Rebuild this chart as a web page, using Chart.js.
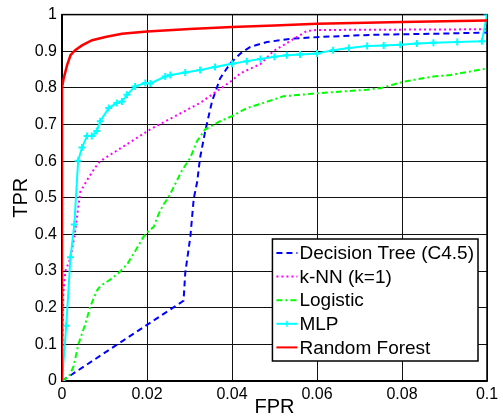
<!DOCTYPE html>
<html>
<head>
<meta charset="utf-8">
<script src="https://cdn.jsdelivr.net/npm/chart.js@4"></script>
<style>
  html, body { margin: 0; padding: 0; background: #fff; }
  #wrap { width: 503px; height: 419px; }
</style>
</head>
<body>
<div id="wrap"><canvas id="chart" width="503" height="419"></canvas></div>
<script>
const seriesNames = ['Decision Tree (C4.5)', 'k-NN (k=1)', 'Logistic', 'MLP', 'Random Forest'];

const dtFpr = [0, 0.0286, 0.029, 0.0302, 0.031, 0.0318, 0.0325, 0.0337, 0.0353, 0.0372, 0.0396, 0.042, 0.0443, 0.0482, 0.0537, 0.0608, 0.0733, 0.089, 0.1];
const dtTpr = [0, 0.219, 0.295, 0.394, 0.498, 0.543, 0.61, 0.682, 0.763, 0.826, 0.867, 0.894, 0.912, 0.925, 0.934, 0.939, 0.945, 0.948, 0.951];

const knnFpr = [0, 0.0003, 0.0008, 0.002, 0.003, 0.0043, 0.0063, 0.0078, 0.009, 0.0208, 0.0325, 0.04, 0.042, 0.0467, 0.0497, 0.0553, 0.0576, 0.06, 0.1];
const knnTpr = [0, 0.24, 0.30, 0.336, 0.40, 0.516, 0.556, 0.583, 0.60, 0.687, 0.759, 0.82, 0.84, 0.865, 0.90, 0.939, 0.955, 0.958, 0.96];

const logFpr = [0, 0.0016, 0.0027, 0.0039, 0.0055, 0.0067, 0.0082, 0.009, 0.0114, 0.0133, 0.0153, 0.0172, 0.0192, 0.02, 0.0216, 0.0227, 0.0239, 0.0251, 0.0282, 0.0302, 0.0318, 0.0337, 0.0372, 0.04, 0.0435, 0.0474, 0.0521, 0.0608, 0.0718, 0.0749, 0.0804, 0.0874, 0.0914, 0.1];
const logTpr = [0, 0.012, 0.039, 0.102, 0.156, 0.205, 0.246, 0.259, 0.277, 0.295, 0.318, 0.354, 0.394, 0.405, 0.421, 0.455, 0.482, 0.502, 0.574, 0.61, 0.655, 0.687, 0.709, 0.723, 0.745, 0.759, 0.777, 0.786, 0.795, 0.799, 0.817, 0.831, 0.835, 0.853];

const mlpFpr = [0, 0.001, 0.002, 0.0029, 0.0038, 0.0047, 0.0059, 0.007, 0.0082, 0.009, 0.011, 0.0129, 0.0141, 0.0153, 0.0172, 0.0196, 0.0208, 0.0243, 0.0255, 0.029, 0.0325, 0.036, 0.04, 0.0435, 0.0467, 0.05, 0.0529, 0.056, 0.06, 0.0638, 0.0675, 0.0718, 0.0757, 0.0796, 0.0835, 0.0874, 0.093, 0.0988, 0.1];
const mlpTpr = [0, 0.151, 0.338, 0.427, 0.601, 0.637, 0.669, 0.669, 0.682, 0.709, 0.745, 0.759, 0.763, 0.781, 0.804, 0.813, 0.812, 0.831, 0.835, 0.842, 0.849, 0.857, 0.866, 0.873, 0.879, 0.885, 0.889, 0.891, 0.894, 0.903, 0.909, 0.914, 0.916, 0.918, 0.921, 0.923, 0.925, 0.927, 1.0];

const rfFpr = [0, 0, 0.0004, 0.0012, 0.002, 0.0031, 0.0047, 0.0071, 0.0102, 0.0141, 0.02, 0.03, 0.04, 0.05, 0.06, 0.08, 0.1];
const rfTpr = [0, 0.80, 0.826, 0.862, 0.889, 0.903, 0.916, 0.93, 0.939, 0.948, 0.954, 0.961, 0.966, 0.970, 0.975, 0.980, 0.984];

const xTicks = [0, 0.02, 0.04, 0.06, 0.08, 0.1];
const yTicks = [0, 0.1, 0.2, 0.3, 0.4, 0.5, 0.6, 0.7, 0.8, 0.9, 1];

function pts(xs, ys) {
    return xs.map((x, i) => ({ x: x, y: ys[i] }));
}

const FONT = 'Arial, "Liberation Sans", sans-serif';

// legend drawn inside the plot, lower right, like the matlab one
const insideLegend = {
    id: 'insideLegend',
    afterDatasetsDraw(chart) {
        const ctx = chart.ctx;
        const area = chart.chartArea;
        const sets = chart.data.datasets;
        ctx.save();
        ctx.font = '19px ' + FONT;
        let tw = 0;
        sets.forEach((d) => { tw = Math.max(tw, ctx.measureText(d.label).width); });
        const rowH = 23.6;
        const w = 4 + 21 + 2 + tw + 4;
        const h = rowH * sets.length + 4;
        const x0 = area.right - 9 - w;
        const y0 = area.bottom - 20 - h;
        ctx.fillStyle = '#fff';
        ctx.fillRect(x0, y0, w, h);
        ctx.strokeStyle = '#000';
        ctx.lineWidth = 1.5;
        ctx.strokeRect(x0, y0, w, h);
        sets.forEach((d, i) => {
            const cy = y0 + 14 + i * rowH;
            ctx.strokeStyle = d.borderColor;
            ctx.lineWidth = 2;
            ctx.setLineDash(d.borderDash || []);
            ctx.beginPath();
            ctx.moveTo(x0 + 4, cy);
            ctx.lineTo(x0 + 25, cy);
            ctx.stroke();
            ctx.setLineDash([]);
            if (d.pointRadius > 0) {
                ctx.lineWidth = 1.5;
                ctx.beginPath();
                ctx.moveTo(x0 + 14.5, cy - 3);
                ctx.lineTo(x0 + 14.5, cy + 3);
                ctx.stroke();
            }
            ctx.fillStyle = '#000';
            ctx.textBaseline = 'middle';
            ctx.textAlign = 'left';
            ctx.fillText(d.label, x0 + 27, cy + 1);
        });
        ctx.restore();
    }
};

// closing frame on top and right
const frame = {
    id: 'frame',
    beforeDatasetsDraw(chart) {
        const a = chart.chartArea;
        const ctx = chart.ctx;
        ctx.save();
        ctx.strokeStyle = '#000';
        ctx.lineWidth = 1.5;
        ctx.strokeRect(a.left, a.top, a.right - a.left, a.bottom - a.top);
        ctx.restore();
    }
};

const ctx = document.getElementById('chart').getContext('2d');
new Chart(ctx, {
    type: 'line',
    data: {
        datasets: [
            {
                label: seriesNames[0], data: pts(dtFpr, dtTpr), borderColor: '#0000ff',
                borderWidth: 2, borderDash: [6, 4], pointRadius: 0, order: 4
            },
            {
                label: seriesNames[1], data: pts(knnFpr, knnTpr), borderColor: '#ff00ff',
                borderWidth: 2, borderDash: [2, 3], pointRadius: 0, order: 3
            },
            {
                label: seriesNames[2], data: pts(logFpr, logTpr), borderColor: '#00ff00',
                borderWidth: 2, borderDash: [6, 3, 2, 3], pointRadius: 0, order: 2
            },
            {
                label: seriesNames[3], data: pts(mlpFpr, mlpTpr), borderColor: '#00ffff',
                borderWidth: 2, pointStyle: 'cross', pointRadius: 3.5, pointBorderWidth: 2,
                pointBorderColor: '#00ffff', order: 1
            },
            {
                label: seriesNames[4], data: pts(rfFpr, rfTpr), borderColor: '#ff0000',
                borderWidth: 2.5, pointRadius: 0, order: 0
            }
        ]
    },
    options: {
        responsive: false,
        animation: false,
        events: [],
        layout: { padding: { top: 10, right: 16, left: 0, bottom: 0 } },
        elements: { line: { tension: 0, fill: false } },
        plugins: {
            legend: { display: false },
            tooltip: { enabled: false }
        },
        scales: {
            x: {
                type: 'linear', min: 0, max: 0.1,
                afterBuildTicks: (s) => { s.ticks = xTicks.map((v) => ({ value: v })); },
                afterFit: (s) => { s.height = 38; },
                grid: { color: '#111', lineWidth: 1, drawTicks: false },
                border: { color: '#000', width: 1.5 },
                ticks: {
                    color: '#000', padding: 4, maxRotation: 0,
                    font: { family: FONT, size: 16 },
                    callback: (v) => String(+v.toFixed(2))
                },
                title: {
                    display: true, text: 'FPR', color: '#000',
                    font: { family: FONT, size: 20 }, padding: { top: 0, bottom: 0 }
                }
            },
            y: {
                type: 'linear', min: 0, max: 1,
                afterBuildTicks: (s) => { s.ticks = yTicks.map((v) => ({ value: v })); },
                afterFit: (s) => { s.width = 62; },
                grid: { color: '#111', lineWidth: 1, drawTicks: false },
                border: { color: '#000', width: 1.5 },
                ticks: {
                    color: '#000', padding: 5,
                    font: { family: FONT, size: 16 },
                    callback: (v) => String(+v.toFixed(1))
                },
                title: {
                    display: true, text: 'TPR', color: '#000',
                    font: { family: FONT, size: 20 }, padding: { top: 9, bottom: 0 }
                }
            }
        }
    },
    plugins: [frame, insideLegend]
});
</script>
</body>
</html>
